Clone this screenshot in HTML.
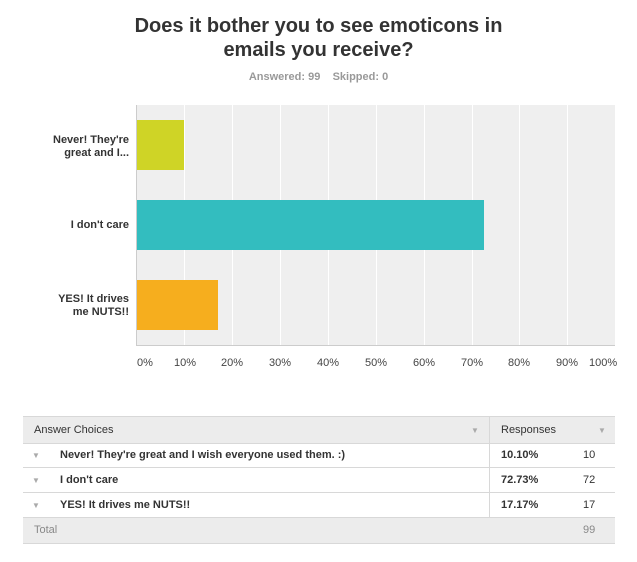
<!DOCTYPE html>
<html><head><style>
body{margin:0;width:637px;height:562px;background:#fff;font-family:"Liberation Sans",Arial,sans-serif;position:relative;overflow:hidden}
.a{position:absolute}
.t{left:0;width:637px;text-align:center;font-weight:bold;font-size:20px;color:#333;line-height:24px}
.lab{font-size:11px;font-weight:bold;color:#333;text-align:right;width:120px;left:9px;line-height:13px}
.tick{font-size:11px;color:#444;top:357px}
.grid{top:105px;height:240px;width:1px;background:#fff}
.row{left:23px;width:592px;border-bottom:1px solid #d8d8d8;font-size:11px;color:#333}
.tri{color:#aaa;font-size:8px}
</style></head><body>
<div class="a t" style="top:14px">Does it bother you to see emoticons in<br>emails you receive?</div>
<div class="a" style="top:71px;left:0;width:637px;text-align:center;font-size:11px;font-weight:bold;color:#999">Answered: 99&nbsp;&nbsp;&nbsp;&nbsp;Skipped: 0</div>
<div class="a" style="left:137px;top:105px;width:478px;height:240px;background:#efefef"></div>
<div class="a" style="left:136px;top:105px;width:1px;height:241px;background:#ccc"></div>
<div class="a" style="left:136px;top:345px;width:479px;height:1px;background:#ccc"></div>
<div class="a grid" style="left:184px"></div><div class="a grid" style="left:232px"></div><div class="a grid" style="left:280px"></div><div class="a grid" style="left:328px"></div><div class="a grid" style="left:376px"></div><div class="a grid" style="left:424px"></div><div class="a grid" style="left:472px"></div><div class="a grid" style="left:519px"></div><div class="a grid" style="left:567px"></div>
<div class="a" style="left:137px;top:120px;width:47px;height:50px;background:#cfd426"></div>
<div class="a" style="left:137px;top:200px;width:347px;height:50px;background:#33bdbf"></div>
<div class="a" style="left:137px;top:280px;width:81px;height:50px;background:#f6ae1e"></div>
<div class="a lab" style="top:134px">Never! They're<br>great and I...</div>
<div class="a lab" style="top:219px">I don't care</div>
<div class="a lab" style="top:293px">YES! It drives<br>me NUTS!!</div>
<div class="a tick" style="left:137px">0%</div><div class="a tick" style="left:174px">10%</div><div class="a tick" style="left:221px">20%</div><div class="a tick" style="left:269px">30%</div><div class="a tick" style="left:317px">40%</div><div class="a tick" style="left:365px">50%</div><div class="a tick" style="left:413px">60%</div><div class="a tick" style="left:461px">70%</div><div class="a tick" style="left:508px">80%</div><div class="a tick" style="left:556px">90%</div><div class="a tick" style="left:589px">100%</div>
<div class="a" style="left:23px;top:416px;width:592px;height:127px;border-top:1px solid #d8d8d8"></div>
<div class="a row" style="top:416px;height:26px;background:#ececec;border-top:1px solid #d8d8d8"><span class="a" style="left:11px;top:7px">Answer Choices</span><span class="a tri" style="left:448px;top:9px">▼</span><span class="a" style="left:478px;top:7px">Responses</span><span class="a tri" style="left:575px;top:9px">▼</span></div>
<div class="a row" style="top:443px;height:24px;font-weight:bold"><span class="a tri" style="left:9px;top:8px;font-weight:normal">▼</span><span class="a" style="left:37px;top:6px">Never! They're great and I wish everyone used them. :)</span><span class="a" style="left:478px;top:6px">10.10%</span><span class="a" style="left:560px;top:6px;font-weight:normal">10</span></div>
<div class="a row" style="top:468px;height:24px;font-weight:bold"><span class="a tri" style="left:9px;top:8px;font-weight:normal">▼</span><span class="a" style="left:37px;top:6px">I don't care</span><span class="a" style="left:478px;top:6px">72.73%</span><span class="a" style="left:560px;top:6px;font-weight:normal">72</span></div>
<div class="a row" style="top:493px;height:24px;font-weight:bold"><span class="a tri" style="left:9px;top:8px;font-weight:normal">▼</span><span class="a" style="left:37px;top:6px">YES! It drives me NUTS!!</span><span class="a" style="left:478px;top:6px">17.17%</span><span class="a" style="left:560px;top:6px;font-weight:normal">17</span></div>
<div class="a" style="left:489px;top:416px;width:1px;height:101px;background:#d8d8d8"></div>
<div class="a row" style="top:518px;height:25px;background:#ececec;color:#888"><span class="a" style="left:11px;top:6px">Total</span><span class="a" style="left:560px;top:6px">99</span></div>
</body></html>
